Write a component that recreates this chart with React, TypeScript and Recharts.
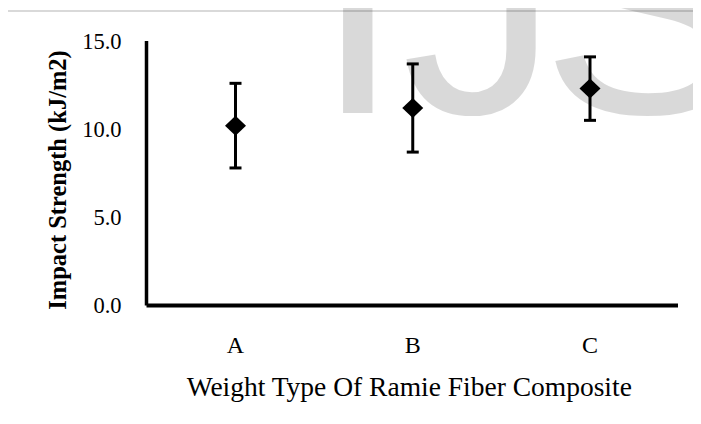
import React from "react";
import { ComposedChart, Line, XAxis, YAxis, ErrorBar, Label } from "recharts";

const categories = ["A", "B", "C"];
const impactValues = [10.2, 11.2, 12.3];
const impactErrors = [2.4, 2.5, 1.8];
const yTicks = [0, 5, 10, 15];

const data = categories.map((name, i) => ({
  name,
  value: impactValues[i],
  err: impactErrors[i],
}));

const FONT = '"Liberation Serif", "Times New Roman", serif';

function Diamond(props: { cx?: number; cy?: number }) {
  const { cx, cy } = props;
  if (cx == null || cy == null) return null;
  const pts = `${cx},${cy - 10} ${cx + 10.5},${cy} ${cx},${cy + 10} ${cx - 10.5},${cy}`;
  return <polygon points={pts} fill="#000" />;
}

export default function App() {
  return (
    <div
      style={{
        position: "relative",
        width: 701,
        height: 424,
        margin: -8,
        overflow: "hidden",
        background: "#fff",
      }}
    >
      {/* light frame of the figure, cut by the page edge */}
      <svg
        width={701}
        height={424}
        style={{ position: "absolute", left: 0, top: 0 }}
      >
        <rect
          x={7}
          y={11}
          width={900}
          height={600}
          fill="none"
          stroke="#d9d9d9"
          strokeWidth={2}
        />
      </svg>
      <div style={{ position: "absolute", left: 0, top: 0 }}>
        <ComposedChart
          width={701}
          height={424}
          data={data}
          margin={{ top: 41, right: 23, bottom: 0, left: 0 }}
        >
          <XAxis
            dataKey="name"
            padding={{ left: 89, right: 88 }}
            height={118.5}
            axisLine={{ stroke: "#000", strokeWidth: 4 }}
            tickLine={false}
            tickSize={0}
            tickMargin={30}
            tick={{ fill: "#000", fontSize: 24, fontFamily: FONT }}
          >
            <Label
              content={({ viewBox }: any) => (
                <text
                  x={viewBox.x + viewBox.width / 2 - 3}
                  y={396}
                  textAnchor="middle"
                  fill="#000"
                  fontSize={27.5}
                  fontFamily={FONT}
                >
                  Weight Type Of Ramie Fiber Composite
                </text>
              )}
            />
          </XAxis>
          <YAxis
            domain={[0, 15]}
            ticks={yTicks}
            width={146.5}
            axisLine={{ stroke: "#000", strokeWidth: 3.5 }}
            tickLine={false}
            tickSize={0}
            tickMargin={25}
            tickFormatter={(v: number) => v.toFixed(1)}
            tick={{ fill: "#000", fontSize: 22.5, fontFamily: FONT }}
          >
            <Label
              content={() => (
                <text
                  x={57}
                  y={180}
                  transform="rotate(-90, 57, 180)"
                  textAnchor="middle"
                  dy="0.35em"
                  fill="#000"
                  fontSize={24.5}
                  fontWeight="bold"
                  fontFamily={FONT}
                >
                  Impact Strength (kJ/m2)
                </text>
              )}
            />
          </YAxis>
          <Line
            dataKey="value"
            stroke="none"
            dot={<Diamond />}
            activeDot={false}
            isAnimationActive={false}
          >
            <ErrorBar
              dataKey="err"
              direction="y"
              width={6}
              stroke="#000"
              strokeWidth={3}
            />
          </Line>
        </ComposedChart>
      </div>
      {/* faint watermark over the page */}
      <svg
        width={701}
        height={424}
        style={{ position: "absolute", left: 0, top: 0, pointerEvents: "none" }}
      >
        <text
          x={314}
          y={113}
          fontSize={315}
          fontFamily='"Liberation Sans", Arial, sans-serif'
          fill="#000"
          fillOpacity={0.15}
        >
          IJ<tspan dx={-18}>S</tspan>
        </text>
      </svg>
    </div>
  );
}
